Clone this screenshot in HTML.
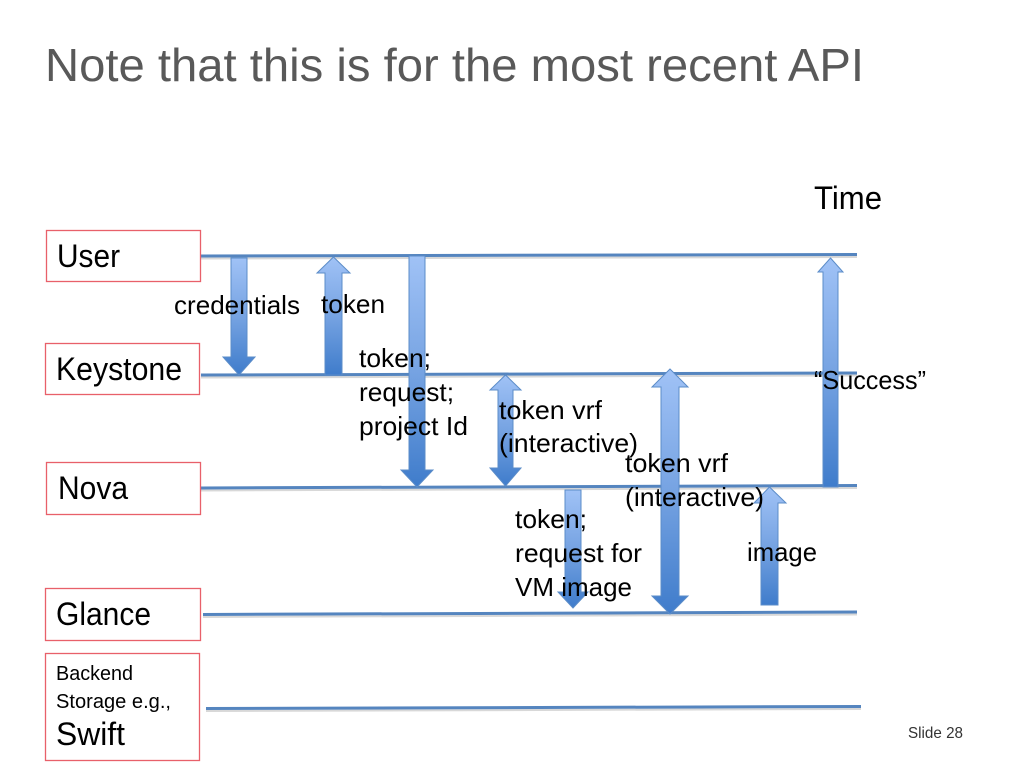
<!DOCTYPE html>
<html><head><meta charset="utf-8"><style>
html,body{margin:0;padding:0;background:#fff}
svg{display:block;filter:blur(.35px)}
text{font-family:"Liberation Sans",sans-serif;fill:#000}
.l{font-size:26px}
.b{font-size:32px}
</style></head><body>
<svg width="1024" height="768" viewBox="0 0 1024 768" xmlns="http://www.w3.org/2000/svg">
<defs>
<linearGradient id="g" x1="0" y1="0" x2="0" y2="1"><stop offset="0" stop-color="#a0c2f6"/><stop offset=".5" stop-color="#76a3e2"/><stop offset="1" stop-color="#3f7ccb"/></linearGradient>
</defs>
<text x="45" y="81" font-size="46.500" style="fill:#595959" textLength="819" lengthAdjust="spacingAndGlyphs">Note that this is for the most recent API</text>
<text x="814" y="209" class="b" textLength="68" lengthAdjust="spacingAndGlyphs">Time</text>

<g stroke="#d8d8d8" stroke-width="2" fill="none">
<line x1="201" y1="258.500" x2="857" y2="257"/>
<line x1="201" y1="377.500" x2="857" y2="375.500"/>
<line x1="201" y1="490.500" x2="857" y2="488"/>
<line x1="203" y1="617" x2="857" y2="614.500"/>
<line x1="206" y1="711" x2="861" y2="709"/>
</g>
<g stroke="#5585bf" stroke-width="3" fill="none">
<line x1="201" y1="256" x2="857" y2="254.500"/>
<line x1="201" y1="375" x2="857" y2="373"/>
<line x1="201" y1="488" x2="857" y2="485.500"/>
<line x1="203" y1="614.500" x2="857" y2="612"/>
<line x1="206" y1="708.500" x2="861" y2="706.500"/>
</g>

<g fill="#fff" stroke="#e8606a" stroke-width="1.300">
<rect x="46.500" y="230.500" width="154" height="51"/>
<rect x="45.500" y="343.500" width="154" height="51"/>
<rect x="46.500" y="462.500" width="154" height="52"/>
<rect x="45.500" y="588.500" width="155" height="52"/>
<rect x="45.500" y="653.500" width="154" height="107"/>
</g>

<g fill="url(#g)" stroke="#5b8cc8" stroke-width="1">
<path d="M231 258H247V357H255L239 375L223 357H231Z"/>
<path d="M333.500 257L350 273H342V375H325V273H317Z"/>
<path d="M409 256H425V470H433L417 487L401 470H409Z"/>
<path d="M505.500 375L521 390H513V468H521L505.500 486L490 468H498V390H490Z"/>
<path d="M565 490H581V592H588L573 608L558 592H565Z"/>
<path d="M670 369L688 387H679V596H688L670 614L652 596H661V387H652Z"/>
<path d="M769.500 487L786 503H778V605H761V503H754Z"/>
<path d="M830.500 258L843 272H838V487H823V272H818Z"/>
</g>

<text x="57" y="267" class="b" textLength="63" lengthAdjust="spacingAndGlyphs">User</text>
<text x="56" y="380" class="b" textLength="126" lengthAdjust="spacingAndGlyphs">Keystone</text>
<text x="58" y="499" class="b" textLength="70" lengthAdjust="spacingAndGlyphs">Nova</text>
<text x="56" y="625" class="b" textLength="95" lengthAdjust="spacingAndGlyphs">Glance</text>
<text x="56" y="680" font-size="20" textLength="77" lengthAdjust="spacingAndGlyphs">Backend</text>
<text x="56" y="708" font-size="20" textLength="115" lengthAdjust="spacingAndGlyphs">Storage e.g.,</text>
<text x="56" y="745" class="b" textLength="69" lengthAdjust="spacingAndGlyphs">Swift</text>

<text class="l" x="174" y="314" textLength="126" lengthAdjust="spacingAndGlyphs">credentials</text>
<text class="l" x="321" y="313" textLength="64" lengthAdjust="spacingAndGlyphs">token</text>
<text class="l" x="359" y="367" textLength="72" lengthAdjust="spacingAndGlyphs">token;</text>
<text class="l" x="359" y="401" textLength="95" lengthAdjust="spacingAndGlyphs">request;</text>
<text class="l" x="359" y="435" textLength="109" lengthAdjust="spacingAndGlyphs">project Id</text>
<text class="l" x="499" y="419" textLength="103" lengthAdjust="spacingAndGlyphs">token vrf</text>
<text class="l" x="499" y="452" textLength="139" lengthAdjust="spacingAndGlyphs">(interactive)</text>
<text class="l" x="625" y="472" textLength="103" lengthAdjust="spacingAndGlyphs">token vrf</text>
<text class="l" x="625" y="506" textLength="139" lengthAdjust="spacingAndGlyphs">(interactive)</text>
<text class="l" x="515" y="528" textLength="72" lengthAdjust="spacingAndGlyphs">token;</text>
<text class="l" x="515" y="562" textLength="127" lengthAdjust="spacingAndGlyphs">request for</text>
<text class="l" x="515" y="596" textLength="117" lengthAdjust="spacingAndGlyphs">VM image</text>
<text class="l" x="747" y="561" textLength="70" lengthAdjust="spacingAndGlyphs">image</text>
<text class="l" x="814" y="389" textLength="112" lengthAdjust="spacingAndGlyphs">“Success”</text>
<text x="908" y="738" font-size="16" style="fill:#333" textLength="55" lengthAdjust="spacingAndGlyphs">Slide 28</text>
</svg>
</body></html>
